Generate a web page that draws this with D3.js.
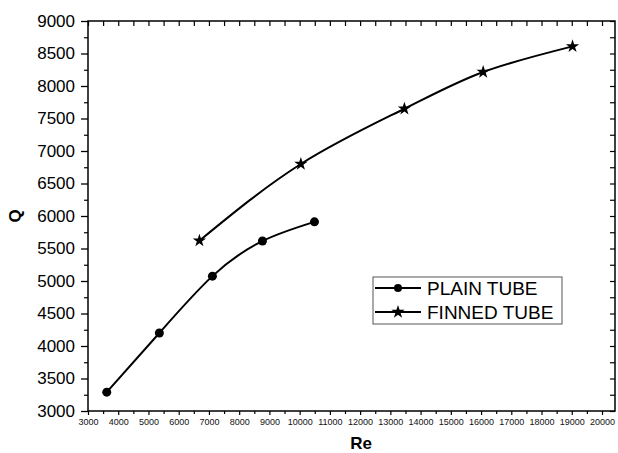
<!DOCTYPE html>
<html>
<head>
<meta charset="utf-8">
<script src="https://d3js.org/d3.v7.min.js"></script>
<style>
  body { margin: 0; background: #fff; }
  text { font-family: "Liberation Sans", Arial, sans-serif; }
</style>
</head>
<body>
<svg id="chart" width="618" height="453"></svg>
<script>
// data
var plainRe = [3620, 5360, 7115, 8770, 10490];
var plainQ  = [3290, 4200, 5075, 5615, 5910];
var finnedRe = [6685, 10040, 13465, 16070, 19025];
var finnedQ  = [5620, 6800, 7650, 8215, 8610];
var xTicks = d3.range(3000, 20001, 1000);
var yTicks = d3.range(3000, 9001, 500);
var seriesNames = ["PLAIN TUBE", "FINNED TUBE"];

var svg = d3.select("#chart");
var pLeft = 88, pRight = 615, pTop = 21, pBottom = 411;

var x = d3.scaleLinear().domain([3000, 20430]).range([pLeft, pRight]);
var y = d3.scaleLinear().domain([3000, 9000]).range([pBottom, pTop]);

var xMinor = d3.range(3500, 20001, 1000);
var yMinor = d3.range(3250, 9000, 500);

// frame
svg.append("rect")
  .attr("x", pLeft).attr("y", pTop)
  .attr("width", pRight - pLeft).attr("height", pBottom - pTop)
  .attr("fill", "none").attr("stroke", "#000").attr("stroke-width", 1.5);

// left axis
var yAxis = svg.append("g")
  .attr("transform", "translate(" + pLeft + ",0)")
  .call(d3.axisLeft(y).tickValues(yTicks).tickSize(7).tickPadding(6).tickFormat(d3.format("d")));
yAxis.select(".domain").remove();
yAxis.selectAll("line").attr("stroke-width", 1.3);
yAxis.selectAll("text").attr("font-size", 17).attr("fill", "#000")
  .style("font-family", "Liberation Sans, Arial, sans-serif");
svg.append("g").attr("transform", "translate(" + pLeft + ",0)")
  .call(d3.axisLeft(y).tickValues(yMinor).tickSize(4).tickFormat(""))
  .call(function(g) { g.select(".domain").remove(); g.selectAll("line").attr("stroke-width", 1.2); });

// bottom axis
var xAxis = svg.append("g")
  .attr("transform", "translate(0," + pBottom + ")")
  .call(d3.axisBottom(x).tickValues(xTicks).tickSize(4).tickPadding(4).tickFormat(d3.format("d")));
xAxis.select(".domain").remove();
xAxis.selectAll("line").attr("stroke-width", 1.2);
xAxis.selectAll("text").attr("font-size", 9).attr("fill", "#111")
  .style("font-family", "Liberation Sans, Arial, sans-serif");
svg.append("g").attr("transform", "translate(0," + pBottom + ")")
  .call(d3.axisBottom(x).tickValues(xMinor).tickSize(3).tickFormat(""))
  .call(function(g) { g.select(".domain").remove(); g.selectAll("line").attr("stroke-width", 1.2); });

// mirrored ticks, inward
svg.append("g").attr("transform", "translate(0," + pTop + ")")
  .call(d3.axisBottom(x).tickValues(xTicks.concat(xMinor)).tickSize(5).tickFormat(""))
  .call(function(g) { g.select(".domain").remove(); g.selectAll("line").attr("stroke-width", 1.2); });
svg.append("g").attr("transform", "translate(" + pRight + ",0)")
  .call(d3.axisLeft(y).tickValues(yTicks.concat(yMinor)).tickSize(5).tickFormat(""))
  .call(function(g) { g.select(".domain").remove(); g.selectAll("line").attr("stroke-width", 1.2); });

// axis titles
svg.append("text")
  .attr("x", 361).attr("y", 449)
  .attr("text-anchor", "middle")
  .attr("font-size", 17).attr("font-weight", "bold")
  .text("Re");
svg.append("text")
  .attr("transform", "translate(21," + y(6000) + ") rotate(-90)")
  .attr("text-anchor", "middle")
  .attr("font-size", 17).attr("font-weight", "bold")
  .text("Q");

// curves
var line = d3.line()
  .x(function(d) { return x(d[0]); })
  .y(function(d) { return y(d[1]); })
  .curve(d3.curveNatural);

var plain = plainRe.map(function(v, i) { return [v, plainQ[i]]; });
var finned = finnedRe.map(function(v, i) { return [v, finnedQ[i]]; });

svg.append("path").datum(plain).attr("d", line)
  .attr("fill", "none").attr("stroke", "#000").attr("stroke-width", 2);
svg.append("path").datum(finned).attr("d", line)
  .attr("fill", "none").attr("stroke", "#000").attr("stroke-width", 2);

var star = d3.symbol().type(d3.symbolStar).size(55);

svg.selectAll(".dot").data(plain).enter().append("circle")
  .attr("cx", function(d) { return x(d[0]); })
  .attr("cy", function(d) { return y(d[1]); })
  .attr("r", 4.5).attr("fill", "#000");

svg.selectAll(".star").data(finned).enter().append("path")
  .attr("transform", function(d) { return "translate(" + x(d[0]) + "," + y(d[1]) + ")"; })
  .attr("d", star).attr("fill", "#000");

// legend
var lg = svg.append("g");
lg.append("rect")
  .attr("x", 373).attr("y", 277).attr("width", 189).attr("height", 47)
  .attr("fill", "#fff").attr("stroke", "#555").attr("stroke-width", 1);

var rows = lg.selectAll(".row").data(seriesNames).enter().append("g")
  .attr("transform", function(d, i) { return "translate(0," + (288 + i * 24) + ")"; });
rows.append("line")
  .attr("x1", 375).attr("x2", 421).attr("y1", 0).attr("y2", 0)
  .attr("stroke", "#000").attr("stroke-width", 2);
rows.filter(function(d, i) { return i === 0; }).append("circle")
  .attr("cx", 398).attr("cy", 0).attr("r", 4).attr("fill", "#000");
rows.filter(function(d, i) { return i === 1; }).append("path")
  .attr("transform", "translate(398,0)")
  .attr("d", star).attr("fill", "#000");
rows.append("text")
  .attr("x", 427).attr("y", 0).attr("dy", "0.36em")
  .attr("font-size", 19)
  .text(function(d) { return d; });
</script>
</body>
</html>
